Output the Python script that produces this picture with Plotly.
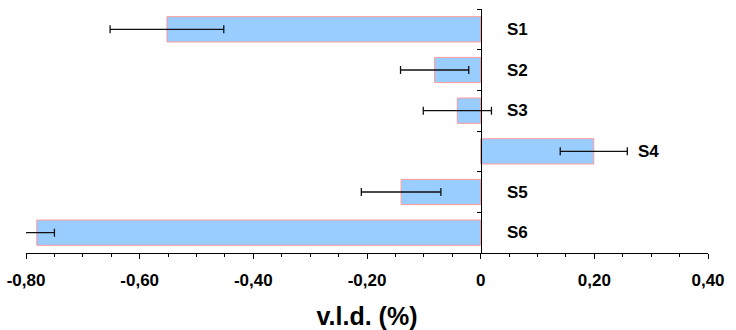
import plotly.graph_objects as go

categories = ["S1", "S2", "S3", "S4", "S5", "S6"]
values = [-0.552, -0.081, -0.041, 0.199, -0.140, -0.781]
errors = [0.100, 0.060, 0.060, 0.059, 0.070, 0.031]
tick_vals = [-0.8, -0.6, -0.4, -0.2, 0.0, 0.2, 0.4]
tick_text = ["-0,80", "-0,60", "-0,40", "-0,20", "0", "0,20", "0,40"]
x_title = "v.l.d. (%)"

FONT = "Liberation Sans, Arial, sans-serif"

fig = go.Figure()
fig.add_trace(go.Bar(
    y=categories, x=values, orientation="h", width=0.62,
    marker=dict(color="#99CCFF", line=dict(color="#FF9999", width=1)),
    hoverinfo="skip", showlegend=False,
))
fig.add_trace(go.Scatter(
    y=categories, x=values, mode="markers",
    marker=dict(size=1, opacity=0),
    error_x=dict(type="data", array=errors, visible=True,
                 color="#111111", thickness=1.3, width=4),
    cliponaxis=False, hoverinfo="skip", showlegend=False,
))

for c, v, e in zip(categories, values, errors):
    lx = 0.042 if v < 0 else v + e + 0.015
    fig.add_annotation(x=lx, y=c, text=c, showarrow=False,
                       xanchor="left", yanchor="middle",
                       font=dict(family=FONT, size=17, color="black", weight="bold"))

fig.update_layout(
    width=736, height=330,
    margin=dict(l=26, r=28, t=9, b=77),
    paper_bgcolor="white", plot_bgcolor="white",
    xaxis=dict(
        range=[-0.8, 0.4], tickvals=tick_vals, ticktext=tick_text,
        automargin=False,
        ticks="outside", ticklen=5, tickwidth=1, tickcolor="black",
        showline=True, linecolor="black", linewidth=1,
        showgrid=False, zeroline=False,
        ticklabelstandoff=7,
        tickfont=dict(family=FONT, size=17, color="black", weight="bold"),
        minor=dict(dtick=0.05, ticks="outside", ticklen=3, tickcolor="black", showgrid=False),
        title=dict(text=x_title, standoff=20,
                   font=dict(family=FONT, size=25, color="black", weight="bold")),
    ),
    yaxis=dict(
        categoryorder="array", categoryarray=categories, autorange="reversed",
        anchor="free", position=2/3, automargin=False,
        showticklabels=False, tickson="boundaries",
        ticks="outside", ticklen=4, tickcolor="black",
        showline=True, linecolor="black", linewidth=1,
        showgrid=False, zeroline=False,
    ),
)

fig.write_html("out.html", config={"displayModeBar": False},
               post_script="document.body.style.margin='0';document.body.style.overflow='hidden';")
